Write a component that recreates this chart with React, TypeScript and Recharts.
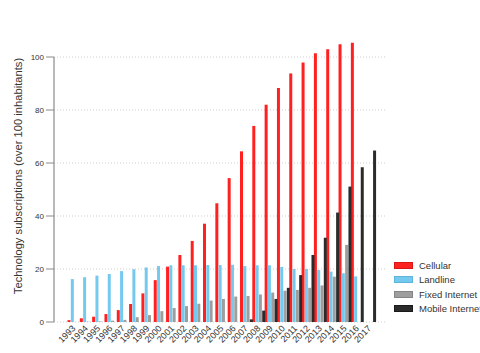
import { BarChart, Bar, XAxis, YAxis, CartesianGrid, Legend } from "recharts";

const FONT = "'Liberation Sans', Arial, sans-serif";

const years = [
  "1993", "1994", "1995", "1996", "1997", "1998", "1999", "2000", "2001", "2002", "2003", "2004", "2005",
  "2006", "2007", "2008", "2009", "2010", "2011", "2012", "2013", "2014", "2015", "2016", "2017",
];
const cellular = [
  0.7, 1.4, 2.0, 3.0, 4.5, 6.8, 10.8, 15.8, 20.9, 25.3, 30.6, 37.1, 44.8,
  54.3, 64.4, 74.0, 82.0, 88.3, 93.8, 97.9, 101.4, 102.9, 104.8, 105.4, null,
];
const landline = [
  16.2, 16.9, 17.5, 18.1, 19.2, 19.9, 20.6, 21.1, 21.4, 21.4, 21.4, 21.5, 21.5,
  21.6, 21.1, 21.4, 21.4, 20.8, 20.0, 20.0, 19.6, 19.0, 18.4, 17.2, null,
];
const fixedInternet = [
  0, 0.1, 0.2, 0.5, 0.8, 1.8, 2.6, 4.1, 5.3, 6.0, 6.9, 8.1, 8.7,
  9.6, 9.8, 10.4, 11.1, 11.8, 12.1, 12.9, 13.8, 17.1, 29.1, null, null,
];
const mobileInternet = [
  null, null, null, null, null, null, null, null, null, null, null, null, null,
  null, 1.0, 4.3, 8.7, 12.9, 17.7, 25.3, 31.8, 41.3, 51.1, 58.4, 64.7,
];
const yTicks = [0, 20, 40, 60, 80, 100];
const yTitle = "Technology subscriptions (over 100 inhabitants)";

const series = [
  { key: "cellular", name: "Cellular", color: "#ff2020", edge: "#d81818" },
  { key: "landline", name: "Landline", color: "#74c9ef", edge: "#5eb3da" },
  { key: "fixed", name: "Fixed Internet", color: "#9e9e9e", edge: "#858585" },
  { key: "mobile", name: "Mobile Internet", color: "#2b2b2b", edge: "#1a1a1a" },
];

const data = years.map((year, i) => ({
  year,
  cellular: cellular[i],
  landline: landline[i],
  fixed: fixedInternet[i],
  mobile: mobileInternet[i],
}));

const YearTick = ({ x, y, payload }: any) => (
  <text
    x={x + 3}
    y={y + 7}
    transform={`rotate(-45, ${x + 3}, ${y + 7})`}
    textAnchor="end"
    fontSize={9}
    fontFamily={FONT}
    fill="#333"
  >
    {payload.value}
  </text>
);

// title sits a little above the middle of the axis in the original
const YTitle = ({ viewBox }: any) => {
  const cx = viewBox.x + 21.5;
  const cy = viewBox.y + viewBox.height / 2 - 13.5;
  return (
    <text
      x={cx}
      y={cy}
      transform={`rotate(-90, ${cx}, ${cy})`}
      textAnchor="middle"
      fontSize={11.2}
      fontFamily={FONT}
      fill="#333"
    >
      {yTitle}
    </text>
  );
};

// legend drawn from the series list so the order stays as in the source
const LegendBox = () => (
  <div style={{ fontFamily: FONT, fontSize: 9.5, color: "#333" }}>
    {series.map((s) => (
      <div key={s.key} style={{ display: "flex", alignItems: "center", height: 14.5 }}>
        <span style={{ width: 17, height: 5, background: s.color, border: `1px solid ${s.edge}`, flexShrink: 0 }} />
        <span style={{ marginLeft: 6, whiteSpace: "nowrap" }}>{s.name}</span>
      </div>
    ))}
  </div>
);

export default function App() {
  return (
    <div style={{ position: "absolute", left: 0, top: 0, width: 480, height: 353, overflow: "hidden", background: "#fff" }}>
      {/* bars above 100 run past the top of the axis, as in the original */}
      <style>{".recharts-wrapper [clip-path] { clip-path: none !important; }"}</style>
      <BarChart
        width={480}
        height={353}
        data={data}
        margin={{ top: 57, right: 95, bottom: 0, left: 0 }}
        barCategoryGap={0.5}
        barGap={0.3}
      >
        <CartesianGrid vertical={false} stroke="#cfcfcf" strokeDasharray="1 2" />
        <XAxis
          dataKey="year"
          interval={0}
          axisLine={false}
          tickLine={false}
          tickSize={0}
          tickMargin={0}
          height={31}
          padding={{ left: 13, right: 10 }}
          tick={<YearTick />}
        />
        <YAxis
          width={54}
          domain={[0, 100]}
          allowDataOverflow
          ticks={yTicks}
          axisLine={{ stroke: "#8a8a8a", strokeWidth: 1.2 }}
          tickSize={8}
          tickLine={{ stroke: "#8a8a8a" }}
          tick={{ fontSize: 8, fontFamily: FONT, fill: "#333" }}
          label={{ content: <YTitle /> }}
        />
        {series.map((s) => (
          <Bar key={s.key} dataKey={s.key} name={s.name} fill={s.color} isAnimationActive={false} />
        ))}
        <Legend
          layout="vertical"
          align="center"
          verticalAlign="middle"
          content={<LegendBox />}
          wrapperStyle={{ left: 394, top: 258, width: 120 }}
        />
      </BarChart>
    </div>
  );
}
